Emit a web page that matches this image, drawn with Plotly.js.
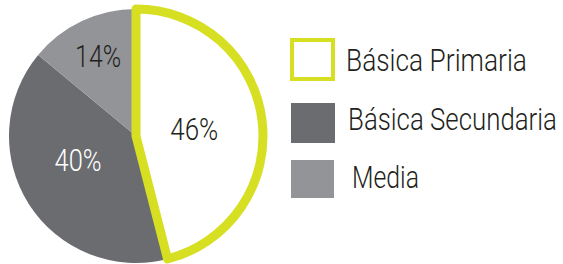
<!DOCTYPE html>
<html>
<head>
<meta charset="utf-8">
<script src="https://cdn.plot.ly/plotly-3.0.1.min.js"></script>
<style>html,body{margin:0;padding:0;background:#fff;}#chart{width:563px;height:264px;}</style>
</head>
<body>
<div id="chart"></div>
<script>
// Data
var categories = ["Básica Primaria", "Básica Secundaria", "Media"];
var values = [46, 40, 14];
var valueLabels = ["46%", "40%", "14%"];

// Styles
var fills = ["#ffffff", "#6b6c70", "#939498"];
var lineColors = ["#d7df23", "#6b6c70", "#939498"];
var lineWidths = [9, 0, 0];
var textColors = ["#231f20", "#ffffff", "#231f20"];
var FONT = "Roboto, 'DejaVu Sans Condensed', sans-serif";
var FONT_SIZE = 31;
var LEGEND_FONT_SIZE = 24;   // laid out small, then scaled up to FONT_SIZE height

var W = 563, H = 264;
function px(x) { return x / W; }
function py(y) { return 1 - y / H; }

// Draw order: gray slices first, outlined slice last so its border sits on top.
var order = [1, 2, 0];
var total = values.reduce(function (a, b) { return a + b; }, 0);
var rotation = 360 * values[0] / total;

var trace = {
  type: "pie",
  labels: order.map(function (i) { return categories[i]; }),
  values: order.map(function (i) { return values[i]; }),
  text: order.map(function (i) { return valueLabels[i]; }),
  textinfo: "text",
  textposition: "inside",
  insidetextorientation: "horizontal",
  insidetextfont: { family: FONT, size: FONT_SIZE, weight: 300, color: order.map(function (i) { return textColors[i]; }) },
  marker: {
    colors: order.map(function (i) { return fills[i]; }),
    line: { color: order.map(function (i) { return lineColors[i]; }), width: order.map(function (i) { return lineWidths[i]; }) }
  },
  sort: false,
  direction: "clockwise",
  rotation: rotation,
  hoverinfo: "none",
  showlegend: false,
  domain: { x: [px(9), px(263)], y: [py(263), py(9)] }
};

// Custom legend (large swatches)
var boxes = [
  { x0: 292, x1: 333, y0: 40, y1: 79 },
  { x0: 291, x1: 335, y0: 103, y1: 143 },
  { x0: 291, x1: 334, y0: 160, y1: 198 }
];
var labelPos = [
  { x: 346, y: 61, w: 181 },
  { x: 348, y: 120, w: 209 },
  { x: 352, y: 178, w: 67 }
];
var pctStyle = {
  "46%": { w: 48, dx: -5, dy: 1.5 },
  "40%": { w: 47, dx: -3, dy: -10.5 },
  "14%": { w: 46, dx: 0, dy: 1.5 }
};

var shapes = boxes.map(function (b, i) {
  return {
    type: "rect", xref: "paper", yref: "paper",
    x0: px(b.x0), x1: px(b.x1), y0: py(b.y1), y1: py(b.y0),
    fillcolor: fills[i],
    line: { color: lineColors[i], width: i === 0 ? 4 : 0 }
  };
});
var annotations = categories.map(function (c, i) {
  return {
    text: c, xref: "paper", yref: "paper",
    x: px(labelPos[i].x), y: py(labelPos[i].y),
    xanchor: "left", yanchor: "middle", showarrow: false,
    font: { family: FONT, size: LEGEND_FONT_SIZE, weight: 300, color: "#231f20" }
  };
});

var layout = {
  width: W, height: H,
  margin: { l: 0, r: 0, t: 0, b: 0 },
  paper_bgcolor: "#ffffff",
  showlegend: false,
  shapes: shapes,
  annotations: annotations
};

Plotly.newPlot("chart", [trace], layout, { displayModeBar: false, staticPlot: true }).then(function (gd) {
  var svgLeft = gd.querySelector(".main-svg").getBoundingClientRect().left;
  var sy = FONT_SIZE / LEGEND_FONT_SIZE;
  gd.querySelectorAll("g.annotation").forEach(function (g, i) {
    var t = g.querySelector("text.annotation-text");
    if (!t) return;
    var bb = t.getBBox();
    var absLeft = t.getBoundingClientRect().left - svgLeft;
    var shift = labelPos[i].x - absLeft;
    var sx = labelPos[i].w / bb.width;
    var cy = bb.y + bb.height / 2;
    var tx = bb.x + shift - sx * bb.x;
    var ty = cy - sy * cy;
    t.setAttribute("transform", "translate(" + tx + "," + ty + ") scale(" + sx + "," + sy + ")");
  });
  gd.querySelectorAll("g.slicetext").forEach(function (g) {
    var t = g.querySelector("text");
    if (!t) return;
    var s = pctStyle[t.textContent];
    if (!s) return;
    t.setAttribute("textLength", s.w);
    t.setAttribute("lengthAdjust", "spacingAndGlyphs");
    g.setAttribute("transform", "translate(" + s.dx + "," + s.dy + ")");
  });
});
</script>
</body>
</html>
